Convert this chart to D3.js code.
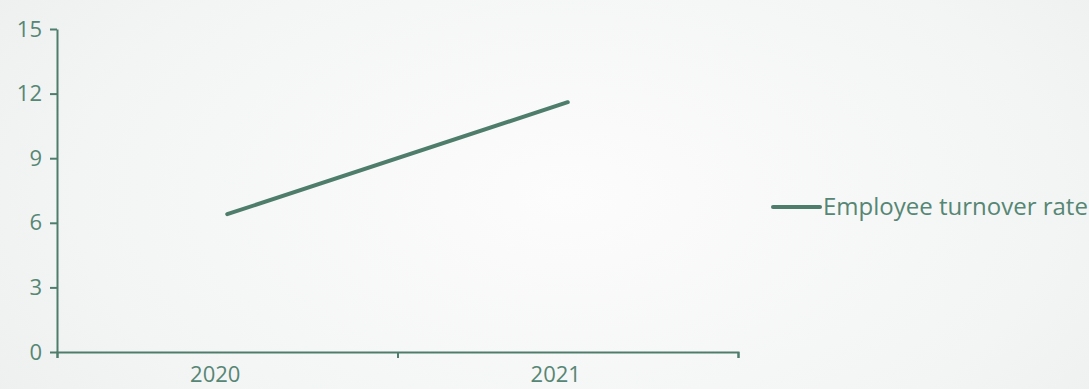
<!DOCTYPE html>
<html>
<head>
<meta charset="utf-8">
<script src="https://cdn.jsdelivr.net/npm/d3@7"></script>
<style>
  html, body { margin: 0; padding: 0; }
  body { width: 1089px; height: 389px; overflow: hidden; }
  svg { display: block; }
</style>
</head>
<body>
<svg id="chart" width="1089" height="389"></svg>
<script>
const categories = ["2020", "2021"];
const seriesName = "Employee turnover rate";
const seriesValues = [6.4, 11.6];
const yTicks = [0, 3, 6, 9, 12, 15];

const W = 1089, H = 389;
const margin = { left: 57, right: 351, top: 29, bottom: 37 };
const lineColor = "#4e7d6c";
const textColor = "#568674";
const fontFamily = "'Open Sans', 'Noto Sans', sans-serif";

const svg = d3.select("#chart");

// background
const defs = svg.append("defs");
const grad = defs.append("radialGradient").attr("id", "bg")
  .attr("cx", "0.52").attr("cy", "0.5").attr("r", "0.75")
  .attr("gradientTransform", "translate(0.5,0.5) scale(1,1.6) translate(-0.5,-0.5)");
grad.append("stop").attr("offset", "0%").attr("stop-color", "#fbfcfb");
grad.append("stop").attr("offset", "60%").attr("stop-color", "#f3f5f4");
grad.append("stop").attr("offset", "100%").attr("stop-color", "#e9eceb");
svg.append("rect").attr("width", W).attr("height", H).attr("fill", "url(#bg)");

const x = d3.scaleBand().domain(categories).range([margin.left, W - margin.right]).padding(0);
const y = d3.scaleLinear().domain([0, 15]).range([H - margin.bottom, margin.top]);
const xEdges = d3.scaleLinear().domain([0, categories.length]).range(x.range());

// y axis
const yAxis = svg.append("g").attr("transform", `translate(${margin.left},0)`)
  .call(d3.axisLeft(y).tickValues(yTicks).tickSize(7).tickSizeOuter(0).tickPadding(8));
yAxis.select(".domain").attr("stroke", lineColor).attr("stroke-width", 2);
yAxis.selectAll(".tick line").attr("stroke", lineColor).attr("stroke-width", 2);
yAxis.selectAll(".tick text").attr("fill", textColor).attr("font-size", 22)
  .attr("font-family", fontFamily);

// x axis (boundary ticks)
const xAxis = svg.append("g").attr("transform", `translate(0,${H - margin.bottom})`)
  .call(d3.axisBottom(xEdges).tickValues(d3.range(categories.length + 1)).tickSize(6).tickSizeOuter(6).tickFormat(""));
xAxis.select(".domain").attr("stroke", lineColor).attr("stroke-width", 2);
xAxis.selectAll(".tick line").attr("stroke", lineColor).attr("stroke-width", 2);

// x labels
svg.append("g").selectAll("text").data(categories).join("text")
  .attr("x", d => x(d) + x.bandwidth() / 2 - 12)
  .attr("y", H - 7)
  .attr("text-anchor", "middle")
  .attr("fill", textColor).attr("font-size", 22).attr("font-family", fontFamily)
  .text(d => d);

// line
const pts = categories.map((c, i) => [x(c) + x.bandwidth() / 2, y(seriesValues[i])]);
svg.append("path").datum(pts)
  .attr("d", d3.line())
  .attr("fill", "none").attr("stroke", lineColor).attr("stroke-width", 4)
  .attr("stroke-linecap", "round").attr("stroke-linejoin", "round");

// legend
const lg = svg.append("g").attr("transform", "translate(773,207)");
lg.append("line").attr("x1", 0).attr("x2", 47).attr("y1", 0).attr("y2", 0)
  .attr("stroke", lineColor).attr("stroke-width", 4).attr("stroke-linecap", "round");
lg.append("text").attr("x", 50).attr("y", 8)
  .attr("fill", textColor).attr("font-size", 24).attr("font-family", fontFamily)
  .text(seriesName);
</script>
</body>
</html>
